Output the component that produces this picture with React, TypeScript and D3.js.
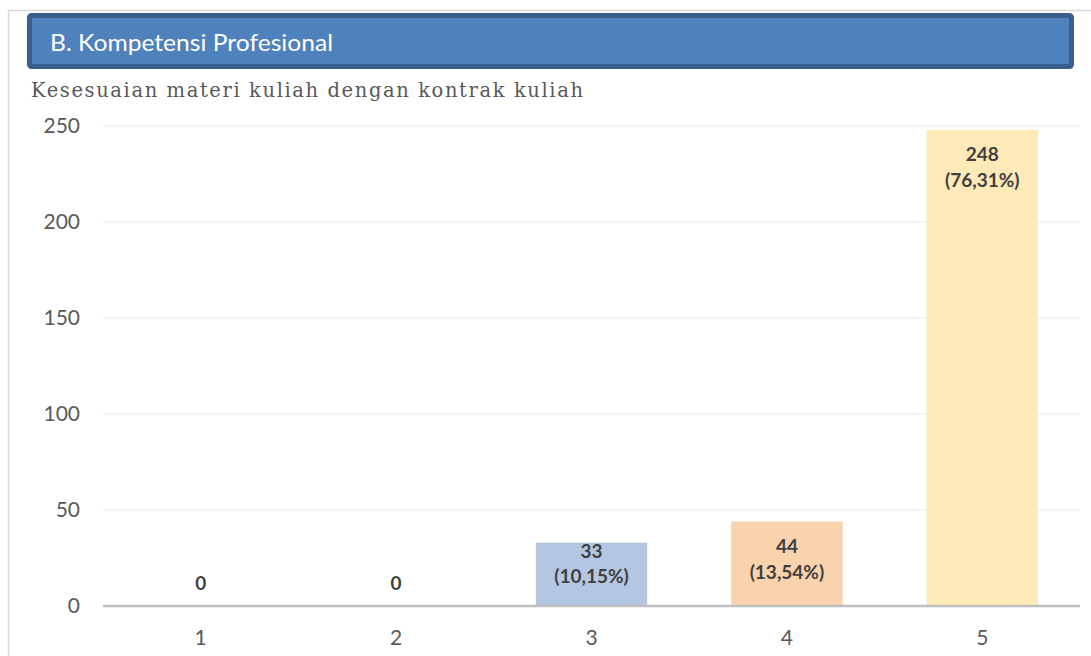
import React from "react";
import * as d3 from "d3";

const categories = ["1", "2", "3", "4", "5"];
const counts = [0, 0, 33, 44, 248];
const percents = ["", "", "(10,15%)", "(13,54%)", "(76,31%)"];
const barColors = ["#B4C7E2", "#B4C7E2", "#B4C7E2", "#F9D2AE", "#FEE9B9"];
const yTicks = [0, 50, 100, 150, 200, 250];
const headerTitle = "B. Kompetensi Profesional";
const chartTitle = "Kesesuaian materi kuliah dengan kontrak kuliah";

const W = 1091;
const H = 656;
const plotLeft = 103;
const plotRight = 1080;
const yBottom = 606;
const yTop = 126;
const sansFont = "Lato, 'Open Sans', sans-serif";

export default function App() {
  const x = d3.scaleBand<string>().domain(categories).range([plotLeft, plotRight]).paddingInner(0.43).paddingOuter(0.215);
  const y = d3.scaleLinear().domain([0, 250]).range([yBottom, yTop]);

  return (
    <svg width={W} height={H} style={{ position: "absolute", left: 0, top: 0, display: "block", background: "#fff" }}>
      {/* outer frame */}
      <line x1={8.5} y1={10.5} x2={W} y2={10.5} stroke="#D9D9D9" strokeWidth={1.5} />
      <line x1={8.5} y1={10.5} x2={8.5} y2={H} stroke="#D9D9D9" strokeWidth={1.5} />
      {/* header */}
      <rect x={29.5} y={15.5} width={1042} height={51} rx={2} fill="#4F81BD" stroke="#3B5F8C" strokeWidth={5} />
      <text x={50} y={51} fill="#FFFFFF" fontFamily={sansFont} fontSize={24} textLength={283} lengthAdjust="spacingAndGlyphs">{headerTitle}</text>
      <text x={31} y={97} fill="#595959" fontFamily="'DejaVu Serif', 'Liberation Serif', serif" fontSize={19.5} textLength={552} lengthAdjust="spacing">{chartTitle}</text>

      {/* gridlines */}
      {yTicks.filter(t => t > 0).map(t => (
        <line key={t} x1={plotLeft} x2={plotRight} y1={y(t)} y2={y(t)} stroke="#EFEFEF" strokeWidth={1.5} />
      ))}
      {/* y labels */}
      {yTicks.map(t => (
        <text key={t} x={80} y={y(t)} dy="0.35em" textAnchor="end" fill="#595959" fontFamily={sansFont} fontSize={21}>{t}</text>
      ))}

      {/* bars */}
      {categories.map((c, i) => (
        counts[i] > 0 ? (
          <rect key={c} x={x(c)} y={y(counts[i])} width={x.bandwidth()} height={yBottom - y(counts[i])} fill={barColors[i]} />
        ) : null
      ))}

      {/* axis line */}
      <line x1={plotLeft} x2={plotRight} y1={yBottom} y2={yBottom} stroke="#BFBFBF" strokeWidth={2.5} />

      {/* x labels */}
      {categories.map(c => (
        <text key={c} x={(x(c) as number) + x.bandwidth() / 2} y={638} dy="0.35em" textAnchor="middle" fill="#595959" fontFamily={sansFont} fontSize={21}>{c}</text>
      ))}

      {/* data labels */}
      {categories.map((c, i) => {
        const cx = (x(c) as number) + x.bandwidth() / 2;
        const top = y(counts[i]);
        const h = yBottom - top;
        if (counts[i] === 0) {
          return (
            <text key={c} x={cx} y={yBottom - 23} dy="0.35em" textAnchor="middle" fill="#404040" fontFamily={sansFont} fontWeight="bold" fontSize={19}>{counts[i]}</text>
          );
        }
        const first = top + (h >= 70 ? 25 : 8.5);
        return (
          <g key={c} fill="#404040" fontFamily={sansFont} fontWeight="bold" fontSize={19} textAnchor="middle">
            <text x={cx} y={first} dy="0.35em">{counts[i]}</text>
            <text x={cx} y={first + 25.5} dy="0.35em">{percents[i]}</text>
          </g>
        );
      })}
    </svg>
  );
}
